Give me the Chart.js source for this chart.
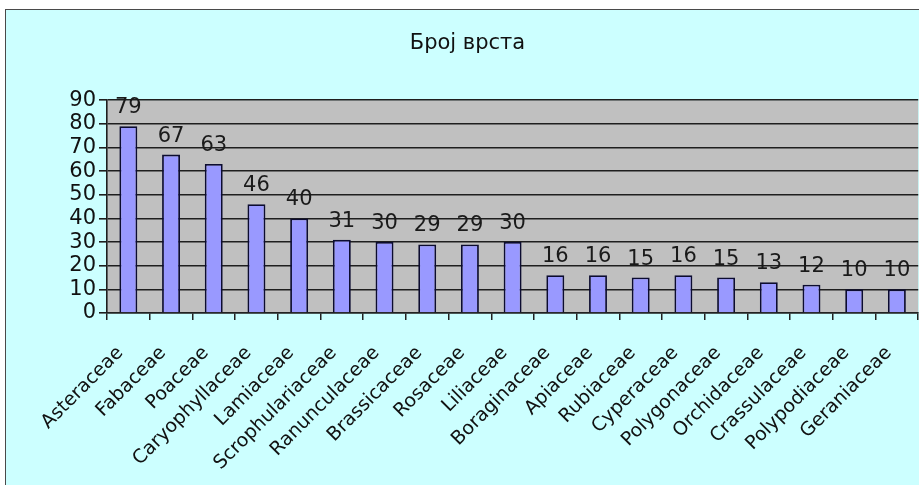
<!DOCTYPE html>
<html>
<head>
<meta charset="utf-8">
<script src="https://cdn.jsdelivr.net/npm/chart.js@4/dist/chart.umd.min.js"></script>
<style>
  html, body { margin: 0; padding: 0; background: #ffffff; width: 919px; height: 485px; overflow: hidden; }
  #frame { position: absolute; left: 5px; top: 9px; width: 940px; height: 500px; background: #ccffff; border: 1.5px solid #4a4a4a; }
  #c { position: absolute; left: 0; top: 0; }
</style>
</head>
<body>
<div id="frame"></div>
<canvas id="c" width="935" height="485"></canvas>
<script>
const titleText = "Број врста";
const categories = ["Asteraceae","Fabaceae","Poaceae","Caryophyllaceae","Lamiaceae","Scrophulariaceae","Ranunculaceae","Brassicaceae","Rosaceae","Liliaceae","Boraginaceae","Apiaceae","Rubiaceae","Cyperaceae","Polygonaceae","Orchidaceae","Crassulaceae","Polypodiaceae","Geraniaceae"];
const speciesCounts = [79,67,63,46,40,31,30,29,29,30,16,16,15,16,15,13,12,10,10];
const yMin = 0, yMax = 90, yStep = 10;

const FONT = "'DejaVu Sans', 'Liberation Sans', Arial, sans-serif";

const plotBg = {
  id: 'plotBg',
  beforeDraw(chart) {
    const {ctx, chartArea: a} = chart;
    ctx.save();
    ctx.fillStyle = '#c0c0c0';
    ctx.fillRect(a.left, a.top, a.right - a.left, a.bottom - a.top);
    ctx.restore();
  }
};

const valueLabels = {
  id: 'valueLabels',
  afterDatasetsDraw(chart) {
    const {ctx} = chart;
    const meta = chart.getDatasetMeta(0);
    ctx.save();
    ctx.font = "21px " + FONT;
    ctx.fillStyle = '#1a1a1a';
    ctx.textAlign = 'center';
    ctx.textBaseline = 'alphabetic';
    meta.data.forEach((bar, i) => {
      ctx.fillText(String(chart.data.datasets[0].data[i]), bar.x, bar.y - 13);
    });
    ctx.restore();
  }
};

new Chart(document.getElementById('c'), {
  type: 'bar',
  data: {
    labels: categories,
    datasets: [{
      data: speciesCounts,
      backgroundColor: '#9999ff',
      borderColor: '#0c0c30',
      borderWidth: 1.8,
      categoryPercentage: 1.0,
      barPercentage: 0.42
    }]
  },
  options: {
    responsive: false,
    animation: false,
    devicePixelRatio: 1,
    layout: { padding: { left: 0, right: 0, top: 0, bottom: 0 } },
    plugins: {
      legend: { display: false },
      tooltip: { enabled: false },
      title: {
        display: true,
        text: titleText,
        color: '#111',
        font: { family: FONT, size: 21, weight: 'normal' },
        padding: { top: 31, bottom: 44 }
      }
    },
    scales: {
      x: {
        grid: { display: true, offset: true, drawOnChartArea: false, drawTicks: true, tickLength: 7, color: '#222', lineWidth: 1.5 },
        border: { display: true, color: '#222', width: 1.5 },
        ticks: {
          autoSkip: false, maxRotation: 45, minRotation: 45, padding: 22, labelOffset: -8,
          color: '#111', font: { family: FONT, size: 19 }
        },
        afterFit(scale) { scale.height = 172; }
      },
      y: {
        min: yMin, max: yMax,
        grid: { color: '#1e1e1e', lineWidth: 1.6, tickLength: 8, drawTicks: true },
        border: { display: true, color: '#1e1e1e', width: 1.6 },
        ticks: { stepSize: yStep, autoSkip: false, padding: 3, color: '#111', font: { family: FONT, size: 21 } },
        afterFit(scale) { scale.width = 107; }
      }
    }
  },
  plugins: [plotBg, valueLabels]
});
</script>
</body>
</html>
